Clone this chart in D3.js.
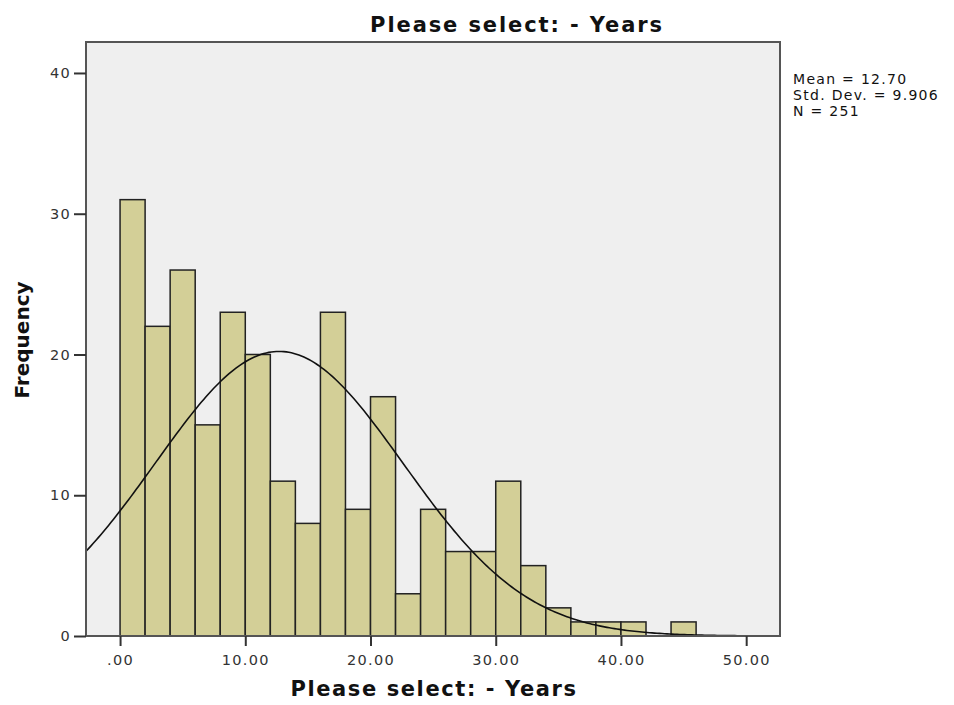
<!DOCTYPE html>
<html>
<head>
<meta charset="utf-8">
<script src="https://cdn.jsdelivr.net/npm/d3@7"></script>
<style>
  body { margin: 0; background: #fff; }
  text { font-family: "DejaVu Sans", sans-serif; }
</style>
</head>
<body>
<svg id="chart" width="954" height="705"></svg>
<script>
// histogram bins (width 2, starting at 0) and counts
var binStarts = [0, 2, 4, 6, 8, 10, 12, 14, 16, 18, 20, 22, 24, 26, 28, 30, 32, 34, 36, 38, 40, 42, 44];
var counts = [31, 22, 26, 15, 23, 20, 11, 8, 23, 9, 17, 3, 9, 6, 6, 11, 5, 2, 1, 1, 1, 0, 1];
var binWidth = 2;
var xTicks = [0, 10, 20, 30, 40, 50];
var yTicks = [0, 10, 20, 30, 40];
var mean = 12.70, sd = 9.906, n = 251;
var statsLines = ['Mean = 12.70', 'Std. Dev. = 9.906', 'N = 251'];

var svg = d3.select('#chart');
var plotL = 86, plotR = 780, plotT = 42, plotB = 636;

var x = d3.scaleLinear().domain([-2.72, 52.7]).range([plotL, plotR]);
var y = d3.scaleLinear().domain([0, 42.2]).range([plotB, plotT]);

// plot background
svg.append('rect')
    .attr('x', plotL).attr('y', plotT)
    .attr('width', plotR - plotL).attr('height', plotB - plotT)
    .attr('fill', '#efefef');

// bars
svg.append('g').selectAll('rect')
    .data(binStarts.map(function (s, i) { return {s: s, c: counts[i]}; }).filter(function (d) { return d.c > 0; }))
    .enter().append('rect')
    .attr('x', function (d) { return x(d.s); })
    .attr('y', function (d) { return y(d.c); })
    .attr('width', function (d) { return x(d.s + binWidth) - x(d.s); })
    .attr('height', function (d) { return y(0) - y(d.c); })
    .attr('fill', '#d3cf97')
    .attr('stroke', '#222')
    .attr('stroke-width', 1.5);

// fitted normal curve from the stated mean / sd / N
var curveXs = d3.range(-2.72, 52.7, 0.2);
var normal = function (v) {
    return n * binWidth / (sd * Math.sqrt(2 * Math.PI)) * Math.exp(-0.5 * Math.pow((v - mean) / sd, 2));
};
svg.append('path')
    .datum(curveXs)
    .attr('fill', 'none')
    .attr('stroke', '#111')
    .attr('stroke-width', 1.6)
    .attr('d', d3.line().x(function (d) { return x(d); }).y(function (d) { return y(normal(d)); }));

// frame
svg.append('rect')
    .attr('x', plotL).attr('y', plotT)
    .attr('width', plotR - plotL).attr('height', plotB - plotT)
    .attr('fill', 'none')
    .attr('stroke', '#555')
    .attr('stroke-width', 2);

// axes
var xAxis = svg.append('g')
    .attr('transform', 'translate(0,' + plotB + ')')
    .call(d3.axisBottom(x).tickValues(xTicks).tickSize(10).tickPadding(6)
        .tickFormat(function (d) { return d === 0 ? '.00' : d3.format('.2f')(d); }));
var yAxis = svg.append('g')
    .attr('transform', 'translate(' + plotL + ',0)')
    .call(d3.axisLeft(y).tickValues(yTicks).tickSize(12).tickPadding(3));

[xAxis, yAxis].forEach(function (g) {
    g.select('.domain').remove();
    g.selectAll('line').attr('stroke', '#333').attr('stroke-width', 2);
    g.selectAll('text').attr('fill', '#333').style('font-size', '14.5px').style('letter-spacing', '1.3px');
});
xAxis.selectAll('text').attr('dy', '0.9em');

// titles
svg.append('text')
    .attr('x', 517).attr('y', 32)
    .attr('text-anchor', 'middle')
    .style('font-size', '21px').style('font-weight', 'bold')
    .style('letter-spacing', '1.9px')
    .attr('fill', '#111')
    .text('Please select: - Years');

svg.append('text')
    .attr('x', 434).attr('y', 696)
    .attr('text-anchor', 'middle')
    .style('font-size', '21px').style('font-weight', 'bold')
    .style('letter-spacing', '1.6px')
    .attr('fill', '#111')
    .text('Please select: - Years');

svg.append('text')
    .attr('transform', 'translate(29,340) rotate(-90)')
    .attr('text-anchor', 'middle')
    .style('font-size', '20px').style('font-weight', 'bold')
    .attr('fill', '#111')
    .text('Frequency');

// stats box
svg.append('g').selectAll('text')
    .data(statsLines)
    .enter().append('text')
    .attr('x', 793)
    .attr('y', function (d, i) { return 84 + i * 16; })
    .style('font-size', '14px')
    .style('letter-spacing', '1.3px')
    .attr('fill', '#111')
    .text(function (d) { return d; });
</script>
</body>
</html>
